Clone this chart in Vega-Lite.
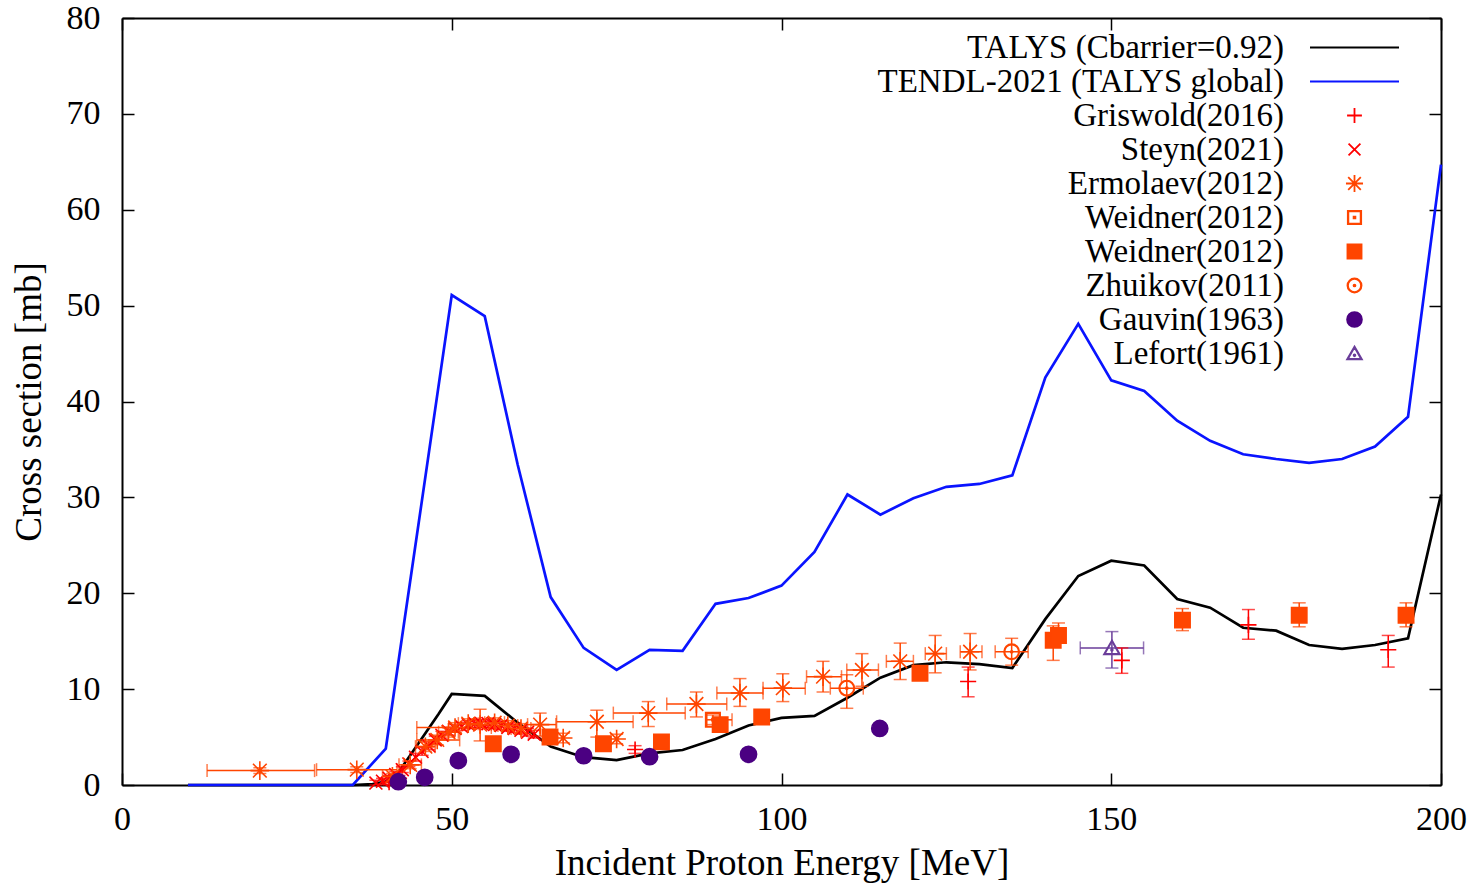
{
  "$schema": "https://vega.github.io/schema/vega-lite/v6.json",
  "width": 1319,
  "height": 767,
  "autosize": {"type": "none"},
  "padding": {"left": 122, "top": 18, "right": 31, "bottom": 102},
  "background": "white",
  "config": {
    "font": "Liberation Serif",
    "view": {"stroke": null},
    "axis": {
      "grid": false,
      "domainColor": "black",
      "domainWidth": 2,
      "tickColor": "black",
      "tickWidth": 1.5,
      "tickSize": -12,
      "labelFlush": false,
      "labelFont": "Liberation Serif",
      "labelFontSize": 34,
      "labelColor": "black",
      "titleFont": "Liberation Serif",
      "titleFontSize": 37,
      "titleFontWeight": "normal",
      "titleColor": "black"
    },
    "legend": {
      "labelFont": "Liberation Serif",
      "labelFontSize": 33,
      "labelColor": "black",
      "labelLimit": 0
    }
  },
  "datasets": {
    "theory": [
      {"series": "TALYS (Cbarrier=0.92)", "E": 10, "xs": 0},
      {"series": "TALYS (Cbarrier=0.92)", "E": 15, "xs": 0},
      {"series": "TALYS (Cbarrier=0.92)", "E": 20, "xs": 0},
      {"series": "TALYS (Cbarrier=0.92)", "E": 25, "xs": 0},
      {"series": "TALYS (Cbarrier=0.92)", "E": 30, "xs": 0},
      {"series": "TALYS (Cbarrier=0.92)", "E": 35, "xs": 0},
      {"series": "TALYS (Cbarrier=0.92)", "E": 38, "xs": 0.1},
      {"series": "TALYS (Cbarrier=0.92)", "E": 40, "xs": 0.35},
      {"series": "TALYS (Cbarrier=0.92)", "E": 42, "xs": 1.4},
      {"series": "TALYS (Cbarrier=0.92)", "E": 44, "xs": 3.4},
      {"series": "TALYS (Cbarrier=0.92)", "E": 46, "xs": 5.4},
      {"series": "TALYS (Cbarrier=0.92)", "E": 48, "xs": 7.4},
      {"series": "TALYS (Cbarrier=0.92)", "E": 50, "xs": 9.5},
      {"series": "TALYS (Cbarrier=0.92)", "E": 55, "xs": 9.3},
      {"series": "TALYS (Cbarrier=0.92)", "E": 60, "xs": 6.5},
      {"series": "TALYS (Cbarrier=0.92)", "E": 65, "xs": 4.0},
      {"series": "TALYS (Cbarrier=0.92)", "E": 70, "xs": 2.9},
      {"series": "TALYS (Cbarrier=0.92)", "E": 75, "xs": 2.6},
      {"series": "TALYS (Cbarrier=0.92)", "E": 80, "xs": 3.3},
      {"series": "TALYS (Cbarrier=0.92)", "E": 85, "xs": 3.65},
      {"series": "TALYS (Cbarrier=0.92)", "E": 90, "xs": 4.8},
      {"series": "TALYS (Cbarrier=0.92)", "E": 95, "xs": 6.2},
      {"series": "TALYS (Cbarrier=0.92)", "E": 100, "xs": 7.0},
      {"series": "TALYS (Cbarrier=0.92)", "E": 105, "xs": 7.2},
      {"series": "TALYS (Cbarrier=0.92)", "E": 110, "xs": 9.1},
      {"series": "TALYS (Cbarrier=0.92)", "E": 115, "xs": 11.2},
      {"series": "TALYS (Cbarrier=0.92)", "E": 120, "xs": 12.5},
      {"series": "TALYS (Cbarrier=0.92)", "E": 125, "xs": 12.8},
      {"series": "TALYS (Cbarrier=0.92)", "E": 130, "xs": 12.6},
      {"series": "TALYS (Cbarrier=0.92)", "E": 135, "xs": 12.2},
      {"series": "TALYS (Cbarrier=0.92)", "E": 140, "xs": 17.3},
      {"series": "TALYS (Cbarrier=0.92)", "E": 145, "xs": 21.8},
      {"series": "TALYS (Cbarrier=0.92)", "E": 150, "xs": 23.4},
      {"series": "TALYS (Cbarrier=0.92)", "E": 155, "xs": 22.9},
      {"series": "TALYS (Cbarrier=0.92)", "E": 160, "xs": 19.4},
      {"series": "TALYS (Cbarrier=0.92)", "E": 165, "xs": 18.5},
      {"series": "TALYS (Cbarrier=0.92)", "E": 170, "xs": 16.4},
      {"series": "TALYS (Cbarrier=0.92)", "E": 175, "xs": 16.1},
      {"series": "TALYS (Cbarrier=0.92)", "E": 180, "xs": 14.6},
      {"series": "TALYS (Cbarrier=0.92)", "E": 185, "xs": 14.2},
      {"series": "TALYS (Cbarrier=0.92)", "E": 190, "xs": 14.6},
      {"series": "TALYS (Cbarrier=0.92)", "E": 195, "xs": 15.3},
      {"series": "TALYS (Cbarrier=0.92)", "E": 200, "xs": 30.3},
      {"series": "TENDL-2021 (TALYS global)", "E": 10, "xs": 0},
      {"series": "TENDL-2021 (TALYS global)", "E": 15, "xs": 0},
      {"series": "TENDL-2021 (TALYS global)", "E": 20, "xs": 0},
      {"series": "TENDL-2021 (TALYS global)", "E": 25, "xs": 0},
      {"series": "TENDL-2021 (TALYS global)", "E": 30, "xs": 0},
      {"series": "TENDL-2021 (TALYS global)", "E": 35, "xs": 0},
      {"series": "TENDL-2021 (TALYS global)", "E": 40, "xs": 3.8},
      {"series": "TENDL-2021 (TALYS global)", "E": 45, "xs": 27.4},
      {"series": "TENDL-2021 (TALYS global)", "E": 50, "xs": 51.1},
      {"series": "TENDL-2021 (TALYS global)", "E": 55, "xs": 48.9},
      {"series": "TENDL-2021 (TALYS global)", "E": 60, "xs": 33.4},
      {"series": "TENDL-2021 (TALYS global)", "E": 65, "xs": 19.6},
      {"series": "TENDL-2021 (TALYS global)", "E": 70, "xs": 14.3},
      {"series": "TENDL-2021 (TALYS global)", "E": 75, "xs": 12.0},
      {"series": "TENDL-2021 (TALYS global)", "E": 80, "xs": 14.1},
      {"series": "TENDL-2021 (TALYS global)", "E": 85, "xs": 14.0},
      {"series": "TENDL-2021 (TALYS global)", "E": 90, "xs": 18.9},
      {"series": "TENDL-2021 (TALYS global)", "E": 95, "xs": 19.5},
      {"series": "TENDL-2021 (TALYS global)", "E": 100, "xs": 20.8},
      {"series": "TENDL-2021 (TALYS global)", "E": 105, "xs": 24.3},
      {"series": "TENDL-2021 (TALYS global)", "E": 110, "xs": 30.3},
      {"series": "TENDL-2021 (TALYS global)", "E": 115, "xs": 28.2},
      {"series": "TENDL-2021 (TALYS global)", "E": 120, "xs": 29.9},
      {"series": "TENDL-2021 (TALYS global)", "E": 125, "xs": 31.1},
      {"series": "TENDL-2021 (TALYS global)", "E": 130, "xs": 31.4},
      {"series": "TENDL-2021 (TALYS global)", "E": 135, "xs": 32.3},
      {"series": "TENDL-2021 (TALYS global)", "E": 140, "xs": 42.5},
      {"series": "TENDL-2021 (TALYS global)", "E": 145, "xs": 48.1},
      {"series": "TENDL-2021 (TALYS global)", "E": 150, "xs": 42.2},
      {"series": "TENDL-2021 (TALYS global)", "E": 155, "xs": 41.1},
      {"series": "TENDL-2021 (TALYS global)", "E": 160, "xs": 38.0},
      {"series": "TENDL-2021 (TALYS global)", "E": 165, "xs": 35.9},
      {"series": "TENDL-2021 (TALYS global)", "E": 170, "xs": 34.5},
      {"series": "TENDL-2021 (TALYS global)", "E": 175, "xs": 34.0},
      {"series": "TENDL-2021 (TALYS global)", "E": 180, "xs": 33.6},
      {"series": "TENDL-2021 (TALYS global)", "E": 185, "xs": 34.0},
      {"series": "TENDL-2021 (TALYS global)", "E": 190, "xs": 35.3},
      {"series": "TENDL-2021 (TALYS global)", "E": 195, "xs": 38.4},
      {"series": "TENDL-2021 (TALYS global)", "E": 200, "xs": 64.7}
    ],
    "exp": [
      {"series": "Griswold(2016)", "E": 40.5, "xs": 0.3, "Elo": null, "Ehi": null, "xslo": 0.0, "xshi": 0.6},
      {"series": "Griswold(2016)", "E": 42, "xs": 0.7, "Elo": null, "Ehi": null, "xslo": 0.4, "xshi": 1.0},
      {"series": "Griswold(2016)", "E": 77.8, "xs": 3.7, "Elo": null, "Ehi": null, "xslo": 3.3, "xshi": 4.1},
      {"series": "Griswold(2016)", "E": 128.3, "xs": 10.8, "Elo": null, "Ehi": null, "xslo": 9.2, "xshi": 12.3},
      {"series": "Griswold(2016)", "E": 151.6, "xs": 13.0, "Elo": null, "Ehi": null, "xslo": 11.65, "xshi": 14.3},
      {"series": "Griswold(2016)", "E": 170.8, "xs": 16.7, "Elo": null, "Ehi": null, "xslo": 15.2, "xshi": 18.3},
      {"series": "Griswold(2016)", "E": 192.0, "xs": 14.1, "Elo": null, "Ehi": null, "xslo": 12.3, "xshi": 15.6},
      {"series": "Steyn(2021)", "E": 38.5, "xs": 0.2, "Elo": null, "Ehi": null, "xslo": 0.0, "xshi": 0.5},
      {"series": "Steyn(2021)", "E": 39.5, "xs": 0.4, "Elo": null, "Ehi": null, "xslo": 0.1, "xshi": 0.7},
      {"series": "Steyn(2021)", "E": 40.5, "xs": 0.7, "Elo": null, "Ehi": null, "xslo": 0.4, "xshi": 1.0},
      {"series": "Steyn(2021)", "E": 41.5, "xs": 1.1, "Elo": null, "Ehi": null, "xslo": 0.8, "xshi": 1.4},
      {"series": "Steyn(2021)", "E": 42.5, "xs": 1.6, "Elo": null, "Ehi": null, "xslo": 1.3, "xshi": 1.9},
      {"series": "Steyn(2021)", "E": 43.5, "xs": 2.2, "Elo": null, "Ehi": null, "xslo": 1.9, "xshi": 2.5},
      {"series": "Steyn(2021)", "E": 44.5, "xs": 2.9, "Elo": null, "Ehi": null, "xslo": 2.5, "xshi": 3.3},
      {"series": "Steyn(2021)", "E": 45.5, "xs": 3.5, "Elo": null, "Ehi": null, "xslo": 3.1, "xshi": 3.9},
      {"series": "Steyn(2021)", "E": 46.5, "xs": 4.1, "Elo": null, "Ehi": null, "xslo": 3.7, "xshi": 4.5},
      {"series": "Steyn(2021)", "E": 47.5, "xs": 4.7, "Elo": null, "Ehi": null, "xslo": 4.3, "xshi": 5.1},
      {"series": "Steyn(2021)", "E": 48.5, "xs": 5.2, "Elo": null, "Ehi": null, "xslo": 4.8, "xshi": 5.6},
      {"series": "Steyn(2021)", "E": 49.5, "xs": 5.6, "Elo": null, "Ehi": null, "xslo": 5.2, "xshi": 6.0},
      {"series": "Steyn(2021)", "E": 50.5, "xs": 5.9, "Elo": null, "Ehi": null, "xslo": 5.5, "xshi": 6.3},
      {"series": "Steyn(2021)", "E": 51.5, "xs": 6.1, "Elo": null, "Ehi": null, "xslo": 5.7, "xshi": 6.5},
      {"series": "Steyn(2021)", "E": 52.5, "xs": 6.3, "Elo": null, "Ehi": null, "xslo": 5.9, "xshi": 6.7},
      {"series": "Steyn(2021)", "E": 53.5, "xs": 6.4, "Elo": null, "Ehi": null, "xslo": 6.0, "xshi": 6.8},
      {"series": "Steyn(2021)", "E": 54.5, "xs": 6.4, "Elo": null, "Ehi": null, "xslo": 6.0, "xshi": 6.8},
      {"series": "Steyn(2021)", "E": 55.5, "xs": 6.4, "Elo": null, "Ehi": null, "xslo": 6.0, "xshi": 6.8},
      {"series": "Steyn(2021)", "E": 56.5, "xs": 6.3, "Elo": null, "Ehi": null, "xslo": 5.9, "xshi": 6.7},
      {"series": "Steyn(2021)", "E": 57.5, "xs": 6.2, "Elo": null, "Ehi": null, "xslo": 5.8, "xshi": 6.6},
      {"series": "Steyn(2021)", "E": 58.5, "xs": 6.0, "Elo": null, "Ehi": null, "xslo": 5.6, "xshi": 6.4},
      {"series": "Steyn(2021)", "E": 59.5, "xs": 5.9, "Elo": null, "Ehi": null, "xslo": 5.5, "xshi": 6.3},
      {"series": "Steyn(2021)", "E": 60.5, "xs": 5.7, "Elo": null, "Ehi": null, "xslo": 5.3, "xshi": 6.1},
      {"series": "Steyn(2021)", "E": 61.5, "xs": 5.5, "Elo": null, "Ehi": null, "xslo": 5.1, "xshi": 5.9},
      {"series": "Steyn(2021)", "E": 62.5, "xs": 5.3, "Elo": null, "Ehi": null, "xslo": 4.9, "xshi": 5.7},
      {"series": "Ermolaev(2012)", "E": 20.9, "xs": 1.5, "Elo": 12.9, "Ehi": 29.2, "xslo": 1.2, "xshi": 1.8},
      {"series": "Ermolaev(2012)", "E": 35.6, "xs": 1.6, "Elo": 29.5, "Ehi": 41.7, "xslo": 1.3, "xshi": 1.9},
      {"series": "Ermolaev(2012)", "E": 41.0, "xs": 0.9, "Elo": 39.5, "Ehi": 42.5, "xslo": 0.6, "xshi": 1.2},
      {"series": "Ermolaev(2012)", "E": 43.7, "xs": 2.1, "Elo": 42.0, "Ehi": 45.4, "xslo": 1.7, "xshi": 2.5},
      {"series": "Ermolaev(2012)", "E": 46.0, "xs": 4.0, "Elo": 44.5, "Ehi": 47.5, "xslo": 3.5, "xshi": 4.5},
      {"series": "Ermolaev(2012)", "E": 47.8, "xs": 4.7, "Elo": 44.7, "Ehi": 51.2, "xslo": 4.2, "xshi": 5.2},
      {"series": "Ermolaev(2012)", "E": 49.5, "xs": 5.5, "Elo": 48.0, "Ehi": 51.0, "xslo": 5.0, "xshi": 6.0},
      {"series": "Ermolaev(2012)", "E": 50.5, "xs": 6.0, "Elo": 44.7, "Ehi": 56.0, "xslo": 5.5, "xshi": 6.5},
      {"series": "Ermolaev(2012)", "E": 52.5, "xs": 6.4, "Elo": 51.0, "Ehi": 54.0, "xslo": 5.9, "xshi": 6.9},
      {"series": "Ermolaev(2012)", "E": 54.3, "xs": 6.3, "Elo": 52.5, "Ehi": 56.0, "xslo": 4.6, "xshi": 7.9},
      {"series": "Ermolaev(2012)", "E": 56.5, "xs": 6.5, "Elo": 55.0, "Ehi": 58.0, "xslo": 6.0, "xshi": 7.0},
      {"series": "Ermolaev(2012)", "E": 58.5, "xs": 6.2, "Elo": 57.0, "Ehi": 60.0, "xslo": 5.7, "xshi": 6.7},
      {"series": "Ermolaev(2012)", "E": 60.5, "xs": 5.9, "Elo": 59.0, "Ehi": 62.0, "xslo": 5.4, "xshi": 6.4},
      {"series": "Ermolaev(2012)", "E": 63.4, "xs": 6.3, "Elo": 61.5, "Ehi": 65.8, "xslo": 5.1, "xshi": 7.5},
      {"series": "Ermolaev(2012)", "E": 66.9, "xs": 4.9, "Elo": null, "Ehi": null, "xslo": 4.4, "xshi": 5.4},
      {"series": "Ermolaev(2012)", "E": 72.0, "xs": 6.6, "Elo": 65.9, "Ehi": 77.5, "xslo": 5.0, "xshi": 7.8},
      {"series": "Ermolaev(2012)", "E": 75.0, "xs": 4.8, "Elo": null, "Ehi": null, "xslo": 4.3, "xshi": 5.3},
      {"series": "Ermolaev(2012)", "E": 79.8, "xs": 7.5, "Elo": 74.5, "Ehi": 85.4, "xslo": 6.1, "xshi": 8.7},
      {"series": "Ermolaev(2012)", "E": 87.1, "xs": 8.45, "Elo": 82.6, "Ehi": 91.7, "xslo": 7.1, "xshi": 9.7},
      {"series": "Ermolaev(2012)", "E": 93.7, "xs": 9.6, "Elo": 90.2, "Ehi": 97.2, "xslo": 8.2, "xshi": 11.1},
      {"series": "Ermolaev(2012)", "E": 100.2, "xs": 10.1, "Elo": 97.2, "Ehi": 103.6, "xslo": 8.7, "xshi": 11.6},
      {"series": "Ermolaev(2012)", "E": 106.3, "xs": 11.3, "Elo": 103.8, "Ehi": 109.1, "xslo": 9.7, "xshi": 12.9},
      {"series": "Ermolaev(2012)", "E": 112.2, "xs": 12.0, "Elo": 109.9, "Ehi": 114.7, "xslo": 10.3, "xshi": 13.7},
      {"series": "Ermolaev(2012)", "E": 118.0, "xs": 12.9, "Elo": 115.9, "Ehi": 120.0, "xslo": 11.0, "xshi": 14.8},
      {"series": "Ermolaev(2012)", "E": 123.3, "xs": 13.7, "Elo": 121.8, "Ehi": 125.0, "xslo": 11.7, "xshi": 15.6},
      {"series": "Ermolaev(2012)", "E": 128.6, "xs": 13.9, "Elo": 127.1, "Ehi": 130.4, "xslo": 12.0, "xshi": 15.8},
      {"series": "Weidner(2012)", "E": 89.6, "xs": 6.8, "Elo": 88.7, "Ehi": 92.5, "xslo": 6.3, "xshi": 7.3},
      {"series": "Weidner(2012) filled", "E": 56.3, "xs": 4.3, "Elo": null, "Ehi": null, "xslo": 3.9, "xshi": 4.7},
      {"series": "Weidner(2012) filled", "E": 64.9, "xs": 5.0, "Elo": null, "Ehi": null, "xslo": 4.6, "xshi": 5.4},
      {"series": "Weidner(2012) filled", "E": 73.0, "xs": 4.3, "Elo": null, "Ehi": null, "xslo": 3.9, "xshi": 4.7},
      {"series": "Weidner(2012) filled", "E": 81.8, "xs": 4.5, "Elo": null, "Ehi": null, "xslo": 4.1, "xshi": 4.9},
      {"series": "Weidner(2012) filled", "E": 90.7, "xs": 6.3, "Elo": null, "Ehi": null, "xslo": 5.8, "xshi": 6.8},
      {"series": "Weidner(2012) filled", "E": 97.0, "xs": 7.1, "Elo": null, "Ehi": null, "xslo": 6.7, "xshi": 7.5},
      {"series": "Weidner(2012) filled", "E": 121.0, "xs": 11.65, "Elo": null, "Ehi": null, "xslo": 11.2, "xshi": 12.1},
      {"series": "Weidner(2012) filled", "E": 141.2, "xs": 15.1, "Elo": null, "Ehi": null, "xslo": 13.0, "xshi": 16.6},
      {"series": "Weidner(2012) filled", "E": 142.0, "xs": 15.6, "Elo": null, "Ehi": null, "xslo": 14.8, "xshi": 16.9},
      {"series": "Weidner(2012) filled", "E": 160.8, "xs": 17.2, "Elo": null, "Ehi": null, "xslo": 16.1, "xshi": 18.4},
      {"series": "Weidner(2012) filled", "E": 178.5, "xs": 17.7, "Elo": null, "Ehi": null, "xslo": 16.5, "xshi": 19.0},
      {"series": "Weidner(2012) filled", "E": 194.7, "xs": 17.7, "Elo": null, "Ehi": null, "xslo": 16.5, "xshi": 19.0},
      {"series": "Zhuikov(2011)", "E": 109.9, "xs": 10.1, "Elo": 107.4, "Ehi": 112.4, "xslo": 8.0, "xshi": 11.5},
      {"series": "Zhuikov(2011)", "E": 134.9, "xs": 13.9, "Elo": 132.4, "Ehi": 137.4, "xslo": 12.5, "xshi": 15.3},
      {"series": "Gauvin(1963)", "E": 41.9, "xs": 0.35, "Elo": null, "Ehi": null, "xslo": null, "xshi": null},
      {"series": "Gauvin(1963)", "E": 45.9, "xs": 0.8, "Elo": null, "Ehi": null, "xslo": null, "xshi": null},
      {"series": "Gauvin(1963)", "E": 51.0, "xs": 2.55, "Elo": null, "Ehi": null, "xslo": null, "xshi": null},
      {"series": "Gauvin(1963)", "E": 59.0, "xs": 3.2, "Elo": null, "Ehi": null, "xslo": null, "xshi": null},
      {"series": "Gauvin(1963)", "E": 70.0, "xs": 3.05, "Elo": null, "Ehi": null, "xslo": null, "xshi": null},
      {"series": "Gauvin(1963)", "E": 80.0, "xs": 2.95, "Elo": null, "Ehi": null, "xslo": null, "xshi": null},
      {"series": "Gauvin(1963)", "E": 95.0, "xs": 3.2, "Elo": null, "Ehi": null, "xslo": null, "xshi": null},
      {"series": "Gauvin(1963)", "E": 114.9, "xs": 5.9, "Elo": null, "Ehi": null, "xslo": 5.5, "xshi": 6.3},
      {"series": "Lefort(1961)", "E": 150.1, "xs": 14.3, "Elo": 145.3, "Ehi": 154.9, "xslo": 12.2, "xshi": 16.0}
    ]
  },
  "layer": [
    {
      "layer": [
        {
          "data": {"name": "theory"},
          "mark": {"type": "line", "strokeWidth": 2.7},
          "encoding": {
            "x": {"field": "E", "type": "quantitative", "title": "Incident Proton Energy [MeV]", "scale": {"domain": [0, 200], "nice": false}, "axis": {"orient": "bottom", "values": [0, 50, 100, 150, 200], "labelPadding": 29, "titlePadding": 9}},
            "y": {"field": "xs", "type": "quantitative", "title": "Cross section [mb]", "scale": {"domain": [0, 80], "nice": false}, "axis": {"orient": "left", "values": [0, 10, 20, 30, 40, 50, 60, 70, 80], "labelPadding": 34, "titlePadding": 18}},
            "color": {"field": "series", "type": "nominal", "scale": {"domain": ["TALYS (Cbarrier=0.92)", "TENDL-2021 (TALYS global)", "Griswold(2016)", "Steyn(2021)", "Ermolaev(2012)", "Weidner(2012)", "Weidner(2012) filled", "Zhuikov(2011)", "Gauvin(1963)", "Lefort(1961)"], "range": ["#000000", "#0a14ff", "#ff0000", "#ff0000", "#ff4500", "#ff4500", "#ff4500", "#ff4500", "#4b0082", "#6a3d9a"]}, "legend": {"orient": "none", "legendX": 1216, "legendY": 13, "title": null, "padding": 0, "labelAlign": "right", "labelOffset": -87, "rowPadding": -0.8, "symbolSize": 220, "symbolStrokeWidth": 1.8, "labelExpr": "replace(datum.label, ' filled', '')"}}
          }
        },
        {
          "data": {"name": "exp"},
          "transform": [{"filter": "datum.Elo != null"}],
          "mark": {"type": "errorbar", "thickness": 1.5, "ticks": {"size": 13, "thickness": 1.5}},
          "encoding": {
            "x": {"field": "Elo", "type": "quantitative", "title": "Incident Proton Energy [MeV]"},
            "x2": {"field": "Ehi"},
            "y": {"field": "xs", "type": "quantitative", "title": "Cross section [mb]"},
            "color": {"field": "series", "type": "nominal", "legend": null}
          }
        },
        {
          "data": {"name": "exp"},
          "transform": [{"filter": "datum.xslo != null"}],
          "mark": {"type": "errorbar", "thickness": 1.5, "ticks": {"size": 13, "thickness": 1.5}},
          "encoding": {
            "y": {"field": "xslo", "type": "quantitative", "title": "Cross section [mb]"},
            "y2": {"field": "xshi"},
            "x": {"field": "E", "type": "quantitative", "title": "Incident Proton Energy [MeV]"},
            "color": {"field": "series", "type": "nominal", "legend": null}
          }
        },
        {
          "data": {"name": "exp"},
          "mark": {"type": "point", "size": 260, "strokeWidth": 1.6, "opacity": 1},
          "encoding": {
            "x": {"field": "E", "type": "quantitative", "title": "Incident Proton Energy [MeV]"},
            "y": {"field": "xs", "type": "quantitative", "title": "Cross section [mb]"},
            "color": {"field": "series", "type": "nominal", "legend": {"orient": "none", "legendX": 1216, "legendY": 13, "title": null, "padding": 0, "labelAlign": "right", "labelOffset": -87, "rowPadding": -0.8, "symbolSize": 220, "symbolStrokeWidth": 1.8, "labelExpr": "replace(datum.label, ' filled', '')"}},
            "shape": {"field": "series", "type": "nominal", "scale": {"domain": ["TALYS (Cbarrier=0.92)", "TENDL-2021 (TALYS global)", "Griswold(2016)", "Steyn(2021)", "Ermolaev(2012)", "Weidner(2012)", "Weidner(2012) filled", "Zhuikov(2011)", "Gauvin(1963)", "Lefort(1961)"], "range": ["M-6,0H6", "M-6,0H6", "M-1,0H1M0,-1V1", "M-0.8,-0.8L0.8,0.8M-0.8,0.8L0.8,-0.8", "M-1.15,0H1.15M0,-1.15V1.15M-0.85,-0.85L0.85,0.85M-0.85,0.85L0.85,-0.85", "M-0.9,-0.9H0.9V0.9H-0.9ZM-0.83,-0.83V0.83H0.83V-0.83ZM-0.12,-0.12H0.12V0.12H-0.12Z", "M-0.95,-0.95H0.95V0.95H-0.95Z", "M0.95,0A0.95,0.95 0 1,1 -0.95,0A0.95,0.95 0 1,1 0.95,0ZM0.88,0A0.88,0.88 0 1,0 -0.88,0A0.88,0.88 0 1,0 0.88,0ZM0.13,0A0.13,0.13 0 1,1 -0.13,0A0.13,0.13 0 1,1 0.13,0Z", "circle", "M0,-0.95L1,0.8H-1ZM0,-0.84L-0.88,0.73H0.88ZM0.12,0.25A0.12,0.12 0 1,1 -0.12,0.25A0.12,0.12 0 1,1 0.12,0.25Z"]}},
            "fill": {"field": "series", "type": "nominal", "legend": null, "scale": {"domain": ["TALYS (Cbarrier=0.92)", "TENDL-2021 (TALYS global)", "Griswold(2016)", "Steyn(2021)", "Ermolaev(2012)", "Weidner(2012)", "Weidner(2012) filled", "Zhuikov(2011)", "Gauvin(1963)", "Lefort(1961)"], "range": ["#000000", "#0a14ff", "#ff0000", "#ff0000", "#ff4500", "#ff4500", "#ff4500", "#ff4500", "#4b0082", "#6a3d9a"]}}
          }
        }
      ]
    },
    {
      "data": {"name": "theory"},
      "mark": {"type": "point", "opacity": 0},
      "encoding": {
        "x": {"field": "E", "type": "quantitative", "scale": {"domain": [0, 200], "nice": false}, "axis": {"orient": "top", "values": [0, 50, 100, 150, 200], "labels": false, "title": null}},
        "y": {"field": "xs", "type": "quantitative", "scale": {"domain": [0, 80], "nice": false}, "axis": {"orient": "right", "values": [0, 10, 20, 30, 40, 50, 60, 70, 80], "labels": false, "title": null}}
      }
    }
  ],
  "resolve": {"axis": {"x": "independent", "y": "independent"}}
}
